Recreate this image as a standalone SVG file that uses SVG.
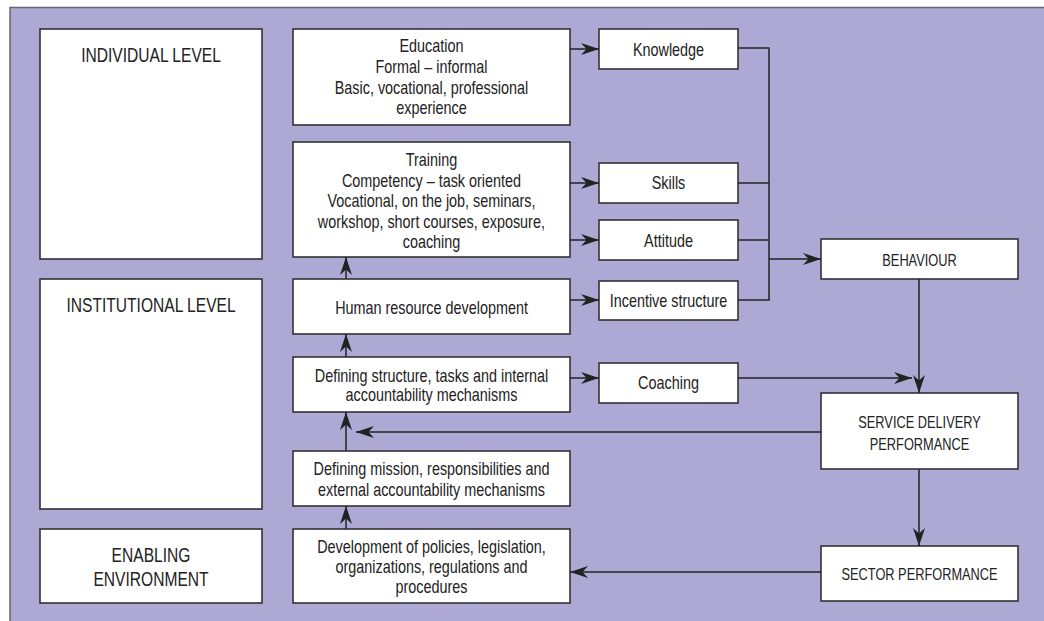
<svg xmlns="http://www.w3.org/2000/svg" width="1044" height="621" viewBox="0 0 1044 621">
<defs>
<style>
.bg{fill:#ada8d4;stroke:#666;stroke-width:1.5}
.box{fill:#fff;stroke:#333;stroke-width:1.6}
.t{font-family:"Liberation Sans",Arial,sans-serif;fill:#222;text-anchor:middle;transform-box:fill-box;transform-origin:center;transform:scaleX(0.8)}
.lv{font-size:19.5px}
.m{font-size:18px}
.c{font-size:16px}
.ln{fill:none;stroke:#222;stroke-width:1.5}
</style>
<marker id="ah" markerUnits="userSpaceOnUse" markerWidth="20" markerHeight="13" refX="18" refY="6.5" orient="auto">
<path d="M0,0.5 L18,6.5 L0,12.5 L5.5,6.5 Z" fill="#222"/>
</marker>
</defs>
<rect class="bg" x="10" y="7.5" width="1040" height="620"/>

<g id="individual-level">
<rect class="box" x="40" y="29" width="222" height="230"/>
<text class="t lv" x="151" y="62">INDIVIDUAL LEVEL</text>
</g>
<g id="institutional-level">
<rect class="box" x="40" y="279" width="222" height="230"/>
<text class="t lv" x="151" y="312">INSTITUTIONAL LEVEL</text>
</g>
<g id="enabling-environment">
<rect class="box" x="40" y="529" width="222" height="74"/>
<text class="t lv" x="151" y="562">ENABLING</text>
<text class="t lv" x="151" y="586">ENVIRONMENT</text>
</g>

<g id="education">
<rect class="box" x="293" y="29" width="277" height="96"/>
<text class="t m" x="431.5" y="52">Education</text>
<text class="t m" x="431.5" y="73">Formal – informal</text>
<text class="t m" x="431.5" y="94">Basic, vocational, professional</text>
<text class="t m" x="431.5" y="114">experience</text>
</g>
<g id="training">
<rect class="box" x="293" y="142" width="277" height="115"/>
<text class="t m" x="431.5" y="166">Training</text>
<text class="t m" x="431.5" y="187">Competency – task oriented</text>
<text class="t m" x="431.5" y="207">Vocational, on the job, seminars,</text>
<text class="t m" x="431.5" y="228">workshop, short courses, exposure,</text>
<text class="t m" x="431.5" y="248">coaching</text>
</g>
<g id="hrd">
<rect class="box" x="293" y="279" width="277" height="55"/>
<text class="t m" x="431.5" y="314">Human resource development</text>
</g>
<g id="structure">
<rect class="box" x="293" y="357" width="277" height="55"/>
<text class="t m" x="431.5" y="382">Defining structure, tasks and internal</text>
<text class="t m" x="431.5" y="401">accountability mechanisms</text>
</g>
<g id="mission">
<rect class="box" x="293" y="451" width="277" height="55"/>
<text class="t m" x="431.5" y="475">Defining mission, responsibilities and</text>
<text class="t m" x="431.5" y="496">external accountability mechanisms</text>
</g>
<g id="policies">
<rect class="box" x="293" y="529" width="277" height="74"/>
<text class="t m" x="431.5" y="553">Development of policies, legislation,</text>
<text class="t m" x="431.5" y="573">organizations, regulations and</text>
<text class="t m" x="431.5" y="593">procedures</text>
</g>

<g id="knowledge">
<rect class="box" x="599" y="29" width="139" height="40"/>
<text class="t m" x="668.5" y="56">Knowledge</text>
</g>
<g id="skills">
<rect class="box" x="599" y="163" width="139" height="40"/>
<text class="t m" x="668.5" y="189">Skills</text>
</g>
<g id="attitude">
<rect class="box" x="599" y="220" width="139" height="40"/>
<text class="t m" x="668.5" y="247">Attitude</text>
</g>
<g id="incentive">
<rect class="box" x="599" y="281" width="139" height="39"/>
<text class="t m" x="668.5" y="307">Incentive structure</text>
</g>
<g id="coaching">
<rect class="box" x="599" y="363" width="139" height="40"/>
<text class="t m" x="668.5" y="389">Coaching</text>
</g>

<g id="behaviour">
<rect class="box" x="821" y="239" width="197" height="40"/>
<text class="t c" x="919.5" y="266">BEHAVIOUR</text>
</g>
<g id="service">
<rect class="box" x="821" y="393" width="197" height="76"/>
<text class="t c" x="919.5" y="428">SERVICE DELIVERY</text>
<text class="t c" x="919.5" y="450">PERFORMANCE</text>
</g>
<g id="sector">
<rect class="box" x="821" y="546" width="197" height="55"/>
<text class="t c" x="919.5" y="580">SECTOR PERFORMANCE</text>
</g>

<g id="connectors">
<path class="ln" d="M570,49 H599" marker-end="url(#ah)"/>
<path class="ln" d="M570,183 H599" marker-end="url(#ah)"/>
<path class="ln" d="M570,240 H599" marker-end="url(#ah)"/>
<path class="ln" d="M570,300 H599" marker-end="url(#ah)"/>
<path class="ln" d="M570,378 H599" marker-end="url(#ah)"/>
<path class="ln" d="M738,48 H769 V300 H738 M738,183 H769 M738,240 H769"/>
<path class="ln" d="M769,259 H821" marker-end="url(#ah)"/>
<path class="ln" d="M919,279 V393" marker-end="url(#ah)"/>
<path class="ln" d="M738,378 H912" marker-end="url(#ah)"/>
<path class="ln" d="M821,432 H356" marker-end="url(#ah)"/>
<path class="ln" d="M919,469 V546" marker-end="url(#ah)"/>
<path class="ln" d="M821,572 H570" marker-end="url(#ah)"/>
<path class="ln" d="M346,279 V257" marker-end="url(#ah)"/>
<path class="ln" d="M346,357 V334" marker-end="url(#ah)"/>
<path class="ln" d="M346,451 V412" marker-end="url(#ah)"/>
<path class="ln" d="M346,529 V506" marker-end="url(#ah)"/>
</g>
</svg>
